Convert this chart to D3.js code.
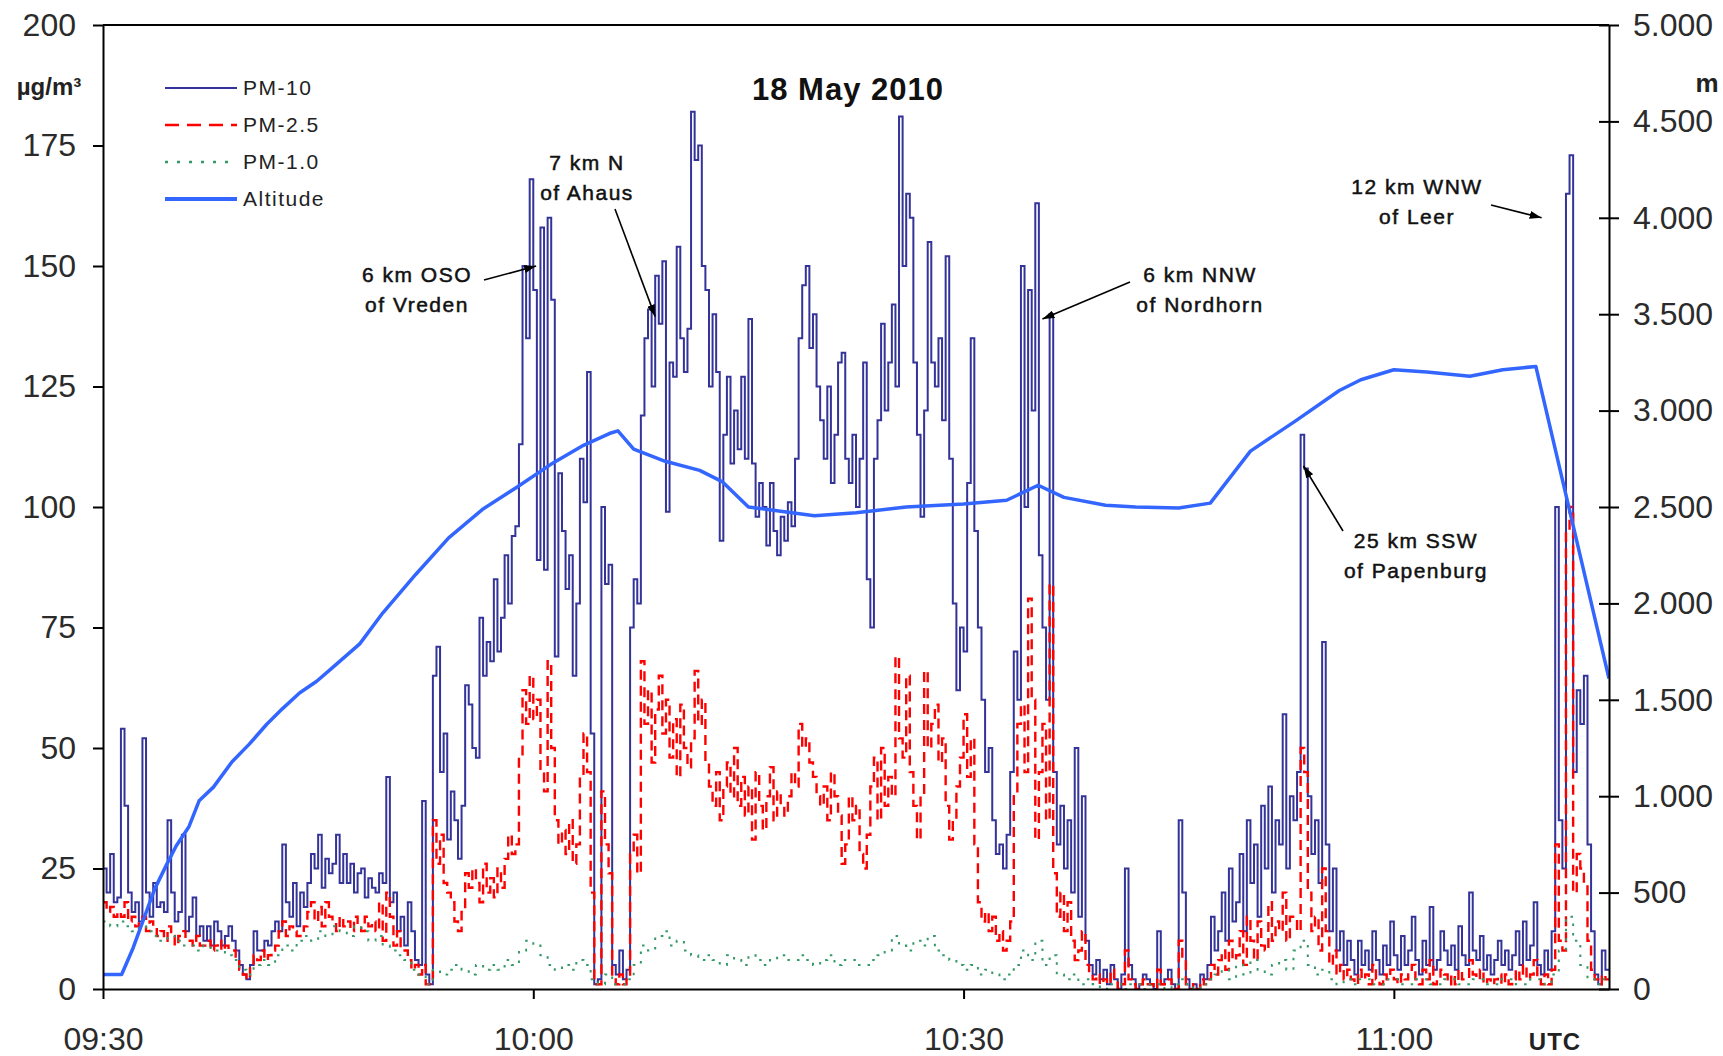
<!DOCTYPE html>
<html>
<head>
<meta charset="utf-8">
<script src="https://cdn.jsdelivr.net/npm/d3@7/dist/d3.min.js"></script>
<style>
  body { margin: 0; background: #fff; }
  text { font-family: "Liberation Sans", Arial, sans-serif; }
</style>
</head>
<body>
<div id="graph"></div>
<script>
// minutes after 09:30 between two particle readings
let pmStep = 0.25;
let pm1Step = 0.5;
let endMinute = 105;

// PM-10, µg/m³, one row = 5 minutes
let pm10 = [
  25,20,28,18, 19,54,38,20, 16,18,14,52, 20,15,22,17, 18,16,35,20,
  14,16,32,12, 15,19,11,13, 10,13,9,14, 12,9,11,13, 10,8,5,3,
  2,5,12,8, 8,10,9,12, 14,12,30,18, 15,22,13,20, 17,22,28,25,
  32,21,27,24, 26,32,22,28, 22,26,20,24, 25,19,23,21, 20,24,22,44,
  18,20,12,15, 9,18,12,6, 5,39,3,1, 65,71,45,53, 31,41,35,27,
  38,63,59,50, 48,77,65,72, 68,85,70,77, 90,80,94,96, 113,150,135,168,
  145,89,158,87, 160,143,69,107, 95,83,90,65, 80,110,101,128, 53,1,2,100,
  84,88,5,3, 8,2,4,75, 85,80,119,135, 141,125,148,138, 151,99,130,127,
  154,135,128,137, 182,172,175,150, 145,125,140,128, 93,115,127,109, 120,112,127,110,
  139,109,98,105, 100,92,105,95, 90,98,93,101, 96,110,135,146, 150,133,140,125,
  118,110,125,105, 115,130,132,110, 105,115,100,110, 130,85,75,110, 118,138,120,130,
  142,125,181,150, 165,160,130,115, 98,120,155,130, 125,135,118,152, 110,80,62,75,
  70,105,135,95, 75,60,45,50, 35,28,30,25, 32,45,70,60, 150,100,145,120,
  163,90,75,60, 140,45,30,38, 25,35,20,50, 15,40,10,5, 3,6,2,4,
  1,5,2,0, 3,25,5,2, 0,1,3,2, 1,0,12,1, 2,4,1,0,
  35,20,2,0, 1,0,3,2, 5,15,8,12, 20,10,25,14, 18,28,12,35,
  22,30,15,38, 25,42,20,35, 30,57,25,40, 35,45,115,108, 40,28,35,22,
  72,30,12,25, 8,12,5,10, 6,3,10,5, 8,4,12,6, 3,9,5,14,
  7,4,11,5, 8,15,6,3, 10,5,17,4, 6,12,8,5, 9,4,13,7,
  5,20,8,6, 11,4,7,3, 6,10,5,8, 4,7,12,5, 14,6,9,18,
  5,3,8,4, 12,100,35,25, 165,173,45,62, 55,65,30,12, 3,1,8,4
];

// PM-2.5, µg/m³
let pm25 = [
  18,16,17,15, 16,15,18,14, 15,13,14,15, 12,14,13,11, 12,10,13,11,
  9,11,12,10, 10,9,11,9, 9,10,8,9, 10,8,9,8, 8,6,4,3,
  2,5,7,6, 8,6,7,8, 9,12,14,11, 13,12,11,11, 13,16,18,14,
  17,13,18,15, 14,12,15,13, 14,12,15,13, 12,15,13,14, 12,18,10,20,
  15,9,12,8, 8,6,4,5, 3,5,1,1, 35,26,32,22, 20,18,14,12,
  16,24,21,25, 22,18,26,20, 23,19,25,21, 27,32,28,30, 48,62,55,65,
  56,60,45,41, 68,50,35,30, 33,28,35,26, 30,44,53,45, 20,1,1,41,
  30,24,2,1, 3,1,2,28, 32,24,68,55, 62,47,58,65, 53,60,48,56,
  44,59,50,46, 52,66,55,60, 47,42,38,45, 35,42,47,40, 50,38,44,36,
  42,31,45,38, 33,40,46,35, 41,38,36,40, 45,42,55,50, 52,47,44,40,
  38,42,35,45, 40,36,26,30, 40,35,38,28, 25,32,42,48, 35,50,38,44,
  40,69,52,48, 65,45,38,31, 40,66,50,55, 59,47,52,38, 31,35,42,48,
  57,44,52,30, 18,14,16,12, 15,10,12,8, 10,14,40,55, 59,45,81,60,
  31,45,55,35, 84,24,15,20, 12,18,10,6, 8,12,5,3, 2,3,1,2,
  1,4,2,0, 1,8,2,1, 0,1,2,1, 1,0,4,1, 1,2,0,0,
  10,6,1,0, 1,0,2,1, 2,5,3,6, 8,4,10,6, 7,12,5,15,
  10,6,14,9, 8,18,10,14, 12,20,10,15, 15,12,50,45, 20,12,15,8,
  25,12,5,8, 3,5,2,4, 2,1,4,2, 3,1,5,2, 1,3,2,4,
  2,1,3,2, 3,5,2,1, 4,2,6,1, 2,4,3,1, 3,1,4,2,
  2,6,3,2, 4,1,2,1, 2,3,1,3, 1,2,4,2, 5,2,3,6,
  2,1,3,1, 4,30,10,8, 95,100,20,28, 25,22,10,4, 2,1,3,2
];

// PM-1.0, µg/m³, one row = 10 minutes
let pm1 = [
  14,13, 14,13, 12,13, 12,11, 10,11, 10,9, 9,8, 9,8, 8,7, 6,4,
  3,5, 6,5, 7,9, 8,10, 11,10, 12,11, 13,12, 11,13, 12,10, 11,9,
  8,7, 6,4, 3,1, 4,3, 4,5, 4,3, 5,4, 5,4, 6,5, 8,10,
  9,7, 5,4, 5,4, 6,5, 2,1, 3,1, 1,2, 5,9, 8,11, 12,9,
  10,8, 7,6, 7,6, 5,7, 6,5, 7,6, 5,6, 7,6, 6,7, 6,5,
  6,7, 5,6, 6,5, 5,6, 7,8, 11,9, 8,10, 9,11, 8,7, 6,5,
  4,5, 3,4, 3,2, 3,5, 8,6, 10,5, 7,3, 2,3, 1,2, 1,0,
  1,1, 0,1, 1,0, 1,1, 0,1, 2,1, 0,1, 2,3, 4,2, 5,3,
  6,4, 3,5, 6,4, 8,10, 5,3, 4,2, 1,2, 1,2, 2,1, 1,2,
  2,1, 1,2, 2,1, 1,2, 2,1, 1,2, 2,1, 1,2, 2,1, 1,2,
  2,1, 3,8, 15,10, 5,2, 1,2
];

// flight altitude, m
let altMinutes = [0, 1.3, 2.1, 3.0, 3.6, 4.4, 5.1, 6.0, 6.7, 7.7, 9.0, 10.2, 11.4, 12.5,
  13.7, 14.9, 16.0, 17.9, 19.5, 21.8, 24.1, 26.5, 28.8, 31.2, 33.5, 35.3, 35.9, 37.0,
  39.2, 41.6, 43.2, 45.0, 46.6, 49.6, 52.5, 56.0, 60.0, 63.0, 65.2, 67.0, 69.9, 72.0,
  75.0, 77.2, 80.0, 83.1, 86.2, 87.7, 90.0, 92.3, 95.3, 97.6, 99.9, 105];
let altMetres = [75, 75, 213, 396, 518, 640, 742, 843, 976, 1047, 1179, 1270, 1372, 1453,
  1535, 1596, 1667, 1790, 1950, 2150, 2340, 2490, 2600, 2720, 2820, 2881, 2895, 2800,
  2737, 2690, 2630, 2500, 2485, 2455, 2470, 2500, 2515, 2535, 2613, 2550, 2509, 2500,
  2495, 2520, 2790, 2944, 3104, 3160, 3212, 3200, 3178, 3212, 3229, 1610];

let pmTicks = [0, 25, 50, 75, 100, 125, 150, 175, 200];
let altTicks = [0, 500, 1000, 1500, 2000, 2500, 3000, 3500, 4000, 4500, 5000];
let timeTicks = [0, 30, 60, 90];
let timeLabels = ["09:30", "10:00", "10:30", "11:00"];
let seriesNames = ["PM-10", "PM-2.5", "PM-1.0", "Altitude"];

// place names, arrow target (minute, µg/m³)
let placeLines = [["6 km OSO", "of Vreden"], ["7 km N", "of Ahaus"], ["6 km NNW", "of Nordhorn"],
  ["25 km SSW", "of Papenburg"], ["12 km WNW", "of Leer"]];
let placeMinute = [30.2, 38.5, 65.5, 83.7, 100.3];
let placeValue = [150, 139.5, 139, 108.5, 160];

let svg = d3.select("#graph").append("svg")
  .attr("width", 1723)
  .attr("height", 1056);

let x = d3.scaleLinear().domain([0, endMinute]).range([103, 1609]);
let yPm = d3.scaleLinear().domain([0, 200]).range([989, 25]);
let yAlt = d3.scaleLinear().domain([0, 5000]).range([989, 25]);

function toPoints(values, step) {
  let pts = values.map(function (v, i) { return {t: i * step, v: v}; });
  pts.push({t: endMinute, v: values[values.length - 1]});
  return pts;
}

svg.append("clipPath").attr("id", "plot")
  .append("rect").attr("x", 103).attr("y", 25).attr("width", 1506).attr("height", 964);

let stepLine = d3.line()
  .x(function (d) { return x(d.t); })
  .y(function (d) { return yPm(d.v); })
  .curve(d3.curveStepAfter);

let plot = svg.append("g").attr("clip-path", "url(#plot)");

plot.append("path")
  .attr("d", stepLine(toPoints(pm10, pmStep)))
  .attr("fill", "none").attr("stroke", "#333399").attr("stroke-width", 2);

plot.append("path")
  .attr("d", stepLine(toPoints(pm25, pmStep)))
  .attr("fill", "none").attr("stroke", "#ff0000").attr("stroke-width", 2.4)
  .attr("stroke-dasharray", "10,6");

plot.append("path")
  .attr("d", stepLine(toPoints(pm1, pm1Step)))
  .attr("fill", "none").attr("stroke", "#339966").attr("stroke-width", 2)
  .attr("stroke-dasharray", "2.5,7");

let altLine = d3.line()
  .x(function (d, i) { return x(altMinutes[i]); })
  .y(function (d) { return yAlt(d); });

plot.append("path")
  .attr("d", altLine(altMetres))
  .attr("fill", "none").attr("stroke", "#3366ff").attr("stroke-width", 3.5)
  .attr("stroke-linejoin", "round");

// axes
let de = d3.formatLocale({decimal: ",", thousands: ".", grouping: [3], currency: ["", " €"]});

let gLeft = svg.append("g").attr("transform", "translate(103,0)")
  .call(d3.axisLeft(yPm).tickValues(pmTicks).tickSize(10).tickSizeOuter(0).tickPadding(17));

let gRight = svg.append("g").attr("transform", "translate(1609,0)")
  .call(d3.axisRight(yAlt).tickValues(altTicks).tickFormat(de.format(",")).tickSize(10).tickSizeOuter(0).tickPadding(14));
gRight.selectAll(".tick line").attr("x1", -10);

let gBottom = svg.append("g").attr("transform", "translate(0,989)")
  .call(d3.axisBottom(x).tickValues(timeTicks)
    .tickFormat(function (d, i) { return timeLabels[i]; })
    .tickSize(10).tickSizeOuter(0).tickPadding(28));

svg.append("line")
  .attr("x1", 103).attr("x2", 1609).attr("y1", 25).attr("y2", 25)
  .attr("stroke", "#000").attr("stroke-width", 2);

[gLeft, gRight, gBottom].forEach(function (g) {
  g.selectAll(".domain").attr("stroke", "#000").attr("stroke-width", 2);
  g.selectAll(".tick line").attr("stroke", "#000").attr("stroke-width", 2);
  g.selectAll("text")
    .attr("font-family", "Liberation Sans, Arial, sans-serif")
    .attr("font-size", 32).attr("fill", "#2b2b2b");
});

// unit labels and title
svg.append("text").attr("x", 49).attr("y", 95).attr("text-anchor", "middle")
  .attr("font-size", 24).attr("font-weight", "bold").attr("fill", "#222")
  .text("µg/m³");
svg.append("text").attr("x", 1707).attr("y", 92).attr("text-anchor", "middle")
  .attr("font-size", 26).attr("font-weight", "bold").attr("fill", "#222")
  .text("m");
svg.append("text").attr("x", 1555).attr("y", 1050).attr("text-anchor", "middle")
  .attr("font-size", 24).attr("font-weight", "bold").attr("fill", "#222")
  .attr("letter-spacing", 1).text("UTC");
svg.append("text").attr("x", 848).attr("y", 100).attr("text-anchor", "middle")
  .attr("font-size", 31).attr("font-weight", "bold").attr("fill", "#111")
  .attr("letter-spacing", 1).text("18 May 2010");

// legend
let legendStroke = ["#333399", "#ff0000", "#339966", "#3366ff"];
let legendWidth = [1.8, 2.4, 2.4, 4];
let legendDash = [null, "14,8", "3,9", null];
let legend = svg.append("g");
seriesNames.forEach(function (name, i) {
  let ly = 88 + i * 37;
  legend.append("line")
    .attr("x1", 165).attr("x2", 237).attr("y1", ly).attr("y2", ly)
    .attr("stroke", legendStroke[i]).attr("stroke-width", legendWidth[i])
    .attr("stroke-dasharray", legendDash[i]);
  legend.append("text")
    .attr("x", 243).attr("y", ly + 7)
    .attr("font-size", 21).attr("letter-spacing", 1.5).attr("fill", "#222")
    .text(name);
});

// place annotations with arrows
let defs = svg.append("defs");
defs.append("marker").attr("id", "head")
  .attr("viewBox", "0 0 12 8").attr("refX", 12).attr("refY", 4)
  .attr("markerWidth", 12).attr("markerHeight", 8)
  .attr("markerUnits", "userSpaceOnUse").attr("orient", "auto")
  .append("path").attr("d", "M0,0L12,4L0,8Z").attr("fill", "#000");

let labelX = [417, 587, 1200, 1416, 1417];
let labelY = [282, 170, 282, 548, 194];
let arrowFrom = [[484, 280], [615, 209], [1130, 282], [1343, 531], [1491, 205]];

placeLines.forEach(function (lines, i) {
  let t = svg.append("text")
    .attr("text-anchor", "middle")
    .attr("font-size", 21).attr("letter-spacing", 1.5)
    .attr("fill", "#111").attr("stroke", "#111").attr("stroke-width", 0.5);
  t.append("tspan").attr("x", labelX[i]).attr("y", labelY[i]).text(lines[0]);
  t.append("tspan").attr("x", labelX[i]).attr("y", labelY[i] + 30).text(lines[1]);
  svg.append("line")
    .attr("x1", arrowFrom[i][0]).attr("y1", arrowFrom[i][1])
    .attr("x2", x(placeMinute[i])).attr("y2", yPm(placeValue[i]))
    .attr("stroke", "#000").attr("stroke-width", 1.6)
    .attr("marker-end", "url(#head)");
});
</script>
</body>
</html>
